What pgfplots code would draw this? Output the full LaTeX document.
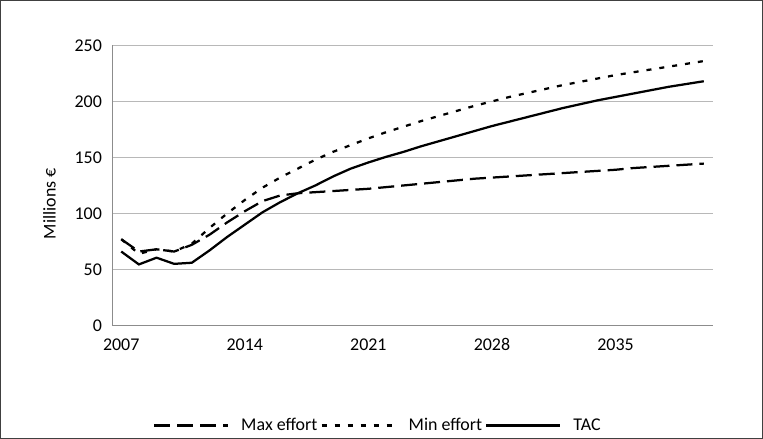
\documentclass[border=0pt]{standalone}
\usepackage{fontspec}
\setmainfont{Carlito}
\usepackage{pgfplots}
\pgfplotsset{compat=1.18}
\usepackage{pgfplotstable}

\newcommand{\chartfont}{\fontsize{18}{21}\selectfont}

% i = year - 2007
\pgfplotstableread{
i  maxe   mine   tac
0  77     77     66
1  66     64     54.5
2  68     68     60.5
3  66     66     55
4  72     73     56
5  81     87     67
6  92     100    79
7  102    112    90
8  111    123    101
9  116    132    110
10 118    140    118
11 119    148    125
12 120    155    133
13 121    161    140
14 122    167    145.5
15 123.5  172.5  150.5
16 125    177.5  155
17 126.5  182.5  160
18 128    187    164.5
19 129.5  191.5  169
20 131    196    173.5
21 132    200    178
22 133    204    182
23 134    207.5  186
24 135    211    190
25 136    214.5  194
26 137    217.5  197.5
27 138    220.5  201
28 139    223.5  204
29 140.5  226    207
30 141.5  228.5  210
31 142.5  231    213
32 143.5  233.5  215.5
33 144.5  236    218
}\effort

\begin{document}
\begin{tikzpicture}
\begin{axis}[name=ax,
    scale only axis, width=600bp, height=280bp,
    xmin=-0.5, xmax=33.5, ymin=0, ymax=250,
    ytick={0,50,...,250},
    xtick={0,7,14,21,28},
    xticklabels={2007,2014,2021,2028,2035},
    axis x line*=bottom, axis y line*=left,
    x axis line style={-}, y axis line style={-},
    axis line style={black!45, line width=0.75bp},
    ymajorgrids, grid style={black!28, line width=0.75bp},
    major tick length=0pt,
    /pgf/number format/assume math mode=true,
    tick label style={font=\chartfont},
    yticklabel style={xshift=-7bp},
    xticklabel style={text height=12bp, text depth=0bp, yshift=-9bp},
    ylabel={Millions €},
    ylabel style={at={(axis description cs:-0.105,0.435)}, anchor=center, font=\chartfont},
    legend columns=3,
    legend style={at={(0.443,-0.357)}, anchor=center, draw=none,
        font=\chartfont,
        nodes={inner xsep=3bp},
        /tikz/every odd column/.append style={column sep=9bp}},
    legend image code/.code={\draw[#1] (0bp,0bp) -- (74bp,0bp);},
]
\addplot[black, line width=2.25bp, dash pattern=on 16bp off 7bp] table[x=i, y=maxe] {\effort};
\addlegendentry{Max effort}
\addplot[black, line width=2.25bp, dash pattern=on 5bp off 8bp] table[x=i, y=mine] {\effort};
\addlegendentry{Min effort}
\addplot[black, line width=2.25bp] table[x=i, y=tac] {\effort};
\addlegendentry{TAC}
\end{axis}
\draw[black!75, line width=0.75bp]
    ([shift={(-112bp,-113bp)}]ax.south west) rectangle ([shift={(50bp,45bp)}]ax.north east);
\end{tikzpicture}
\end{document}
